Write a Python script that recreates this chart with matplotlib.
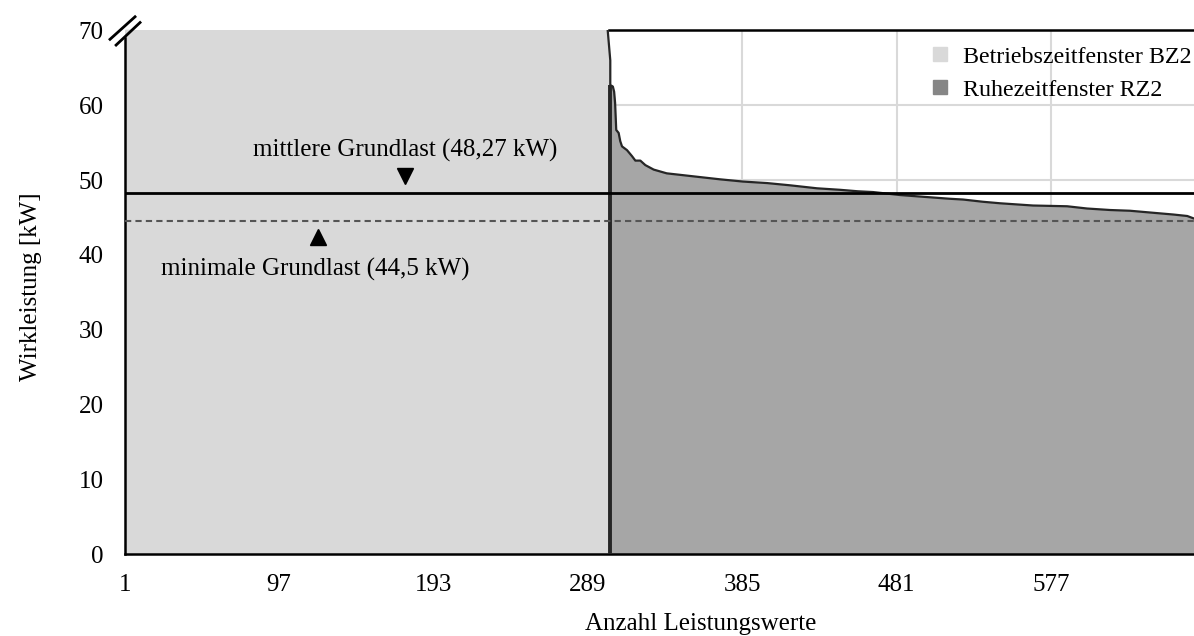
import matplotlib.pyplot as plt
from matplotlib.lines import Line2D

plt.rcParams['font.family'] = ['Liberation Serif', 'DejaVu Serif']

# sorted load values, operating window BZ2 (above 70 kW, clipped)
bz2_idx = [1, 280, 301, 303]
bz2_val = [98.0, 78.0, 71.0, 66.0]

# sorted load values, rest window RZ2
rz2_idx = [303, 304.6, 305.4, 306.0, 306.7, 308.2, 309.2, 310.3, 313.4, 316.5,
           318.6, 321.7, 324.8, 330.0, 338.1, 346.4, 358.8, 371.3, 385.6, 400.5,
           414.8, 431.6, 445.9, 457.1, 466.4, 483.2, 495.6, 514.3, 522.4, 534.8,
           545.4, 565.9, 587.1, 599.5, 613.8, 626.3, 636.9, 653.0, 661.8, 665.5, 672]
rz2_val = [62.7, 62.5, 61.8, 60.3, 56.7, 56.3, 55.2, 54.5, 54.0, 53.2,
           52.6, 52.6, 52.0, 51.4, 50.9, 50.7, 50.4, 50.1, 49.8, 49.6,
           49.3, 48.9, 48.7, 48.5, 48.4, 48.0, 47.8, 47.5, 47.4, 47.1,
           46.9, 46.6, 46.5, 46.2, 46.0, 45.9, 45.7, 45.4, 45.2, 44.9, 44.5]

mean_base = 48.27
min_base = 44.5

xticks = [1, 97, 193, 289, 385, 481, 577]
yticks = [0, 10, 20, 30, 40, 50, 60, 70]

fs = 18

fig = plt.figure(figsize=(11.94, 6.36), dpi=100)
ax = fig.add_axes([0.1044, 0.1285, 0.8956, 0.8237])

ax.set_axisbelow(True)
ax.grid(True, color='#d9d9d9', lw=1.5)

ax.fill_between(bz2_idx, 0, bz2_val, color='#d9d9d9', lw=0, zorder=1)
ax.fill_between(rz2_idx, 0, rz2_val, color='#a6a6a6', lw=0, zorder=1)
ax.plot(bz2_idx + rz2_idx, bz2_val + rz2_val, color='#262626', lw=1.6, zorder=3)
ax.vlines(rz2_idx[0], 0, rz2_val[0], color='#262626', lw=2.8, zorder=3)

ax.axhline(mean_base, color='black', lw=2, zorder=4)
ax.axhline(min_base, color='#555555', lw=1.5, ls=(0, (3, 2)), zorder=4)

ax.plot(175.4, 50.6, marker='v', color='black', ms=11, zorder=5)
ax.plot(121.3, 42.4, marker='^', color='black', ms=11, zorder=5)
ax.text(175.4, 53.9, 'mittlere Grundlast (48,27 kW)', ha='center', va='center', fontsize=fs)
ax.text(119.5, 38.0, 'minimale Grundlast (44,5 kW)', ha='center', va='center', fontsize=fs)

ax.set_xlim(1, 666)
ax.set_ylim(0, 70)
ax.set_xticks(xticks)
ax.set_yticks(yticks)
ax.tick_params(direction='in', labelsize=fs, colors='black')
ax.tick_params(axis='x', length=7, pad=14)
ax.tick_params(axis='y', length=5, pad=15)

ax.spines['right'].set_visible(False)
ax.spines['top'].set_bounds(rz2_idx[0] - 1, 666)
ax.spines['top'].set_linewidth(1.8)
ax.spines['left'].set_bounds(0, 69)
ax.spines['left'].set_linewidth(1.8)
ax.spines['bottom'].set_linewidth(1.8)

# axis break marks at the top of the y axis
for x0, y0, x1, y1 in [(-0.0137, 0.983, 0.0097, 1.026),
                       (-0.0080, 0.972, 0.0144, 1.015)]:
    ax.plot([x0, x1], [y0, y1], transform=ax.transAxes, color='black',
            lw=2, clip_on=False, zorder=6)

ax.set_xlabel('Anzahl Leistungswerte', fontsize=fs)
ax.xaxis.set_label_coords(0.539, -0.113)
ax.set_ylabel('Wirkleistung [kW]', fontsize=fs)
ax.yaxis.set_label_coords(-0.077, 0.51)

handles = [Line2D([], [], ls='none', marker='s', ms=10, color='#d9d9d9'),
           Line2D([], [], ls='none', marker='s', ms=10, color='#868686')]
ax.legend(handles, ['Betriebszeitfenster BZ2', 'Ruhezeitfenster RZ2'],
          loc='upper right', bbox_to_anchor=(1.009, 0.993), frameon=False,
          fontsize=17.3, handletextpad=0.45, labelspacing=0.45,
          borderaxespad=0.1, handlelength=1.0)

fig.savefig('out.png', dpi=100)
